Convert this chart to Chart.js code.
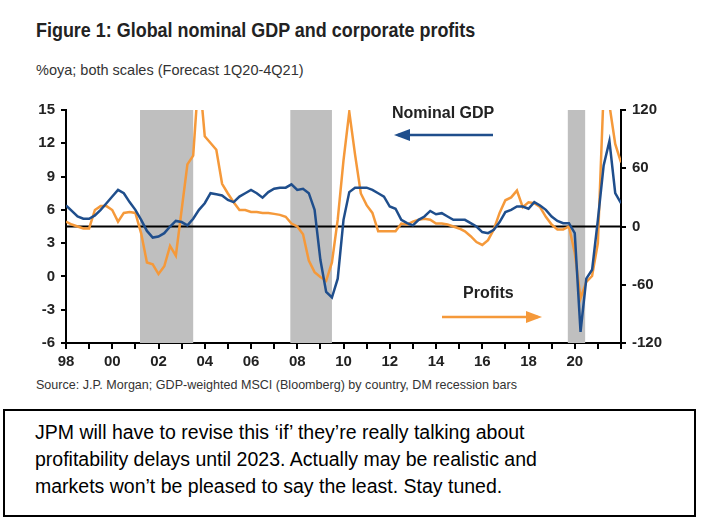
<!DOCTYPE html>
<html><head><meta charset="utf-8">
<script src="https://cdn.jsdelivr.net/npm/chart.js@4"></script>
<style>
body{margin:0;background:#fff;font-family:"Liberation Sans",Arial,sans-serif;width:703px;height:529px;position:relative;overflow:hidden}
#t{position:absolute;left:36px;top:19px;font-size:19.5px;font-weight:bold;color:#222;transform:scaleX(.92);transform-origin:left}
#s{position:absolute;left:36px;top:62px;font-size:14.5px;color:#333}
#src{position:absolute;left:36px;top:377px;font-size:13.5px;color:#333;transform:scaleX(.93);transform-origin:left}
#box{position:absolute;left:3px;top:409px;width:693px;height:108px;border:2px solid #000;font-size:19.5px;line-height:27px;padding:8px 0 0 30px;box-sizing:border-box;color:#000;white-space:nowrap}
#wrap{position:absolute;left:0;top:95px;width:703px;height:280px}
</style></head><body>
<div id="t">Figure 1: Global nominal GDP and corporate profits</div>
<div id="s">%oya; both scales (Forecast 1Q20-4Q21)</div>
<div id="wrap"><canvas id="c"></canvas></div>
<div id="src">Source: J.P. Morgan; GDP-weighted MSCI (Bloomberg) by country, DM recession bars</div>
<div id="box">JPM will have to revise this ‘if’ they’re really talking about<br>profitability delays until 2023. Actually may be realistic and<br>markets won’t be pleased to say the least. Stay tuned.</div>
<script>
const startYear = 1998;
const gdp = [6.4,5.9,5.4,5.2,5.2,5.5,6.0,6.6,7.2,7.8,7.5,6.7,6.0,5.1,4.1,3.5,3.6,3.9,4.5,5.0,4.9,4.6,5.2,6.0,
  6.6,7.5,7.4,7.3,6.9,6.7,7.2,7.5,7.8,7.5,7.1,7.6,7.9,8.0,8.0,8.3,7.8,7.9,7.5,6.0,1.5,-1.4,-1.9,-0.2,
  5.1,7.6,8.0,8.0,8.0,7.8,7.5,7.2,6.3,6.1,5.1,4.8,4.6,5.1,5.4,5.9,5.6,5.7,5.4,5.1,5.1,5.1,4.8,4.5,
  4.0,3.9,4.2,4.9,5.8,6.0,6.3,6.3,6.1,6.7,6.4,6.0,5.4,5.0,4.8,4.8,3.9,-5.0,-0.2,0.6,5.1,10.0,12.2,7.5,6.6];
const profits = [5,2,0,-2,-2,17,21,21,17,5,14,15,14,-7,-37,-39,-49,-41,-20,-30,17,64,73,160,
  93,86,79,44,34,25,17,17,15,15,14,14,13,12,10,3,0,-8,-35,-47,-52,-56,-37,7,
  68,118,74,34,22,14,-5,-5,-5,-5,3,2,5,7,8,7,3,3,2,0,-2,-5,-10,-16,
  -19,-14,-3,14,27,30,37,20,25,24,20,10,2,-3,-3,0,-27,-74,-57,-51,-17,140,125,85,66];
const recStart = [2001.2, 2007.7, 2019.7];
const recEnd = [2003.5, 2009.5, 2020.45];
const leftTicks = [15,12,9,6,3,0,-3,-6];
const rightTicks = [120,60,0,-60,-120];

const pts = a => a.map((v,i)=>({x:startYear+i/4,y:v}));
const font = {family:'"Liberation Sans", Arial, sans-serif', size:15, weight:'bold'};

const extras = {
  id:'extras',
  beforeDatasetsDraw(ch){
    const c=ch.ctx,x=ch.scales.x,a=ch.chartArea;
    c.save();c.fillStyle='#bfbfbf';
    recStart.forEach((s,i)=>{const p0=x.getPixelForValue(s),p1=x.getPixelForValue(recEnd[i]);c.fillRect(p0,a.top,p1-p0,a.bottom-a.top);});
    const z=ch.scales.y2.getPixelForValue(0);
    c.strokeStyle='#000';c.lineWidth=2;c.beginPath();c.moveTo(a.left,z);c.lineTo(a.right,z);c.stroke();
    c.restore();
  },
  afterDraw(ch){
    const c=ch.ctx;c.save();
    c.font='bold 16px "Liberation Sans", Arial';c.fillStyle='#222';
    c.fillText('Nominal GDP',392,23);c.fillText('Profits',463,203);
    const arrow=(x0,x1,y,col)=>{c.strokeStyle=col;c.fillStyle=col;c.lineWidth=2.5;c.beginPath();c.moveTo(x0,y);c.lineTo(x1,y);c.stroke();
      const d=x1>x0?1:-1;c.beginPath();c.moveTo(x1+d*4,y);c.lineTo(x1-d*12,y-6);c.lineTo(x1-d*12,y+6);c.closePath();c.fill();};
    arrow(493,398,40,'#1f4e8c');
    arrow(442,538,222,'#f5993a');
    c.restore();
  }
};

new Chart(document.getElementById('c'),{
  type:'line',
  data:{datasets:[
    {data:pts(gdp),yAxisID:'y',borderColor:'#1f4e8c',borderWidth:2.5,pointRadius:0,tension:0},
    {data:pts(profits),yAxisID:'y2',borderColor:'#f5993a',borderWidth:2.5,pointRadius:0,tension:0}
  ]},
  options:{
    responsive:true,maintainAspectRatio:false,animation:false,
    layout:{padding:{top:10,left:0,right:0,bottom:0}},
    plugins:{legend:{display:false},tooltip:{enabled:false}},
    scales:{
      x:{type:'linear',min:1998,max:2022,
        ticks:{stepSize:1,autoSkip:false,maxRotation:0,color:'#222',font,padding:4,
          callback:v=>(v%2===0&&v<2022)?String(v).slice(2):''},
        grid:{drawOnChartArea:false,drawTicks:true,tickLength:6,color:'#000',lineWidth:2},
        border:{color:'#000',width:2}},
      y:{position:'left',min:-6,max:15,
        afterBuildTicks:s=>{s.ticks=leftTicks.map(v=>({value:v}));},
        afterFit:s=>{s.width=66;},
        ticks:{color:'#222',font,padding:6},
        grid:{drawOnChartArea:false,tickLength:5,color:'#000',lineWidth:2},
        border:{color:'#000',width:2}},
      y2:{position:'right',min:-120,max:120,
        afterBuildTicks:s=>{s.ticks=rightTicks.map(v=>({value:v}));},
        afterFit:s=>{s.width=82;},
        ticks:{color:'#222',font,padding:6},
        grid:{drawOnChartArea:false,tickLength:5,color:'#000',lineWidth:2},
        border:{color:'#000',width:2}}
    }
  },
  plugins:[extras]
});
</script>
</body></html>
